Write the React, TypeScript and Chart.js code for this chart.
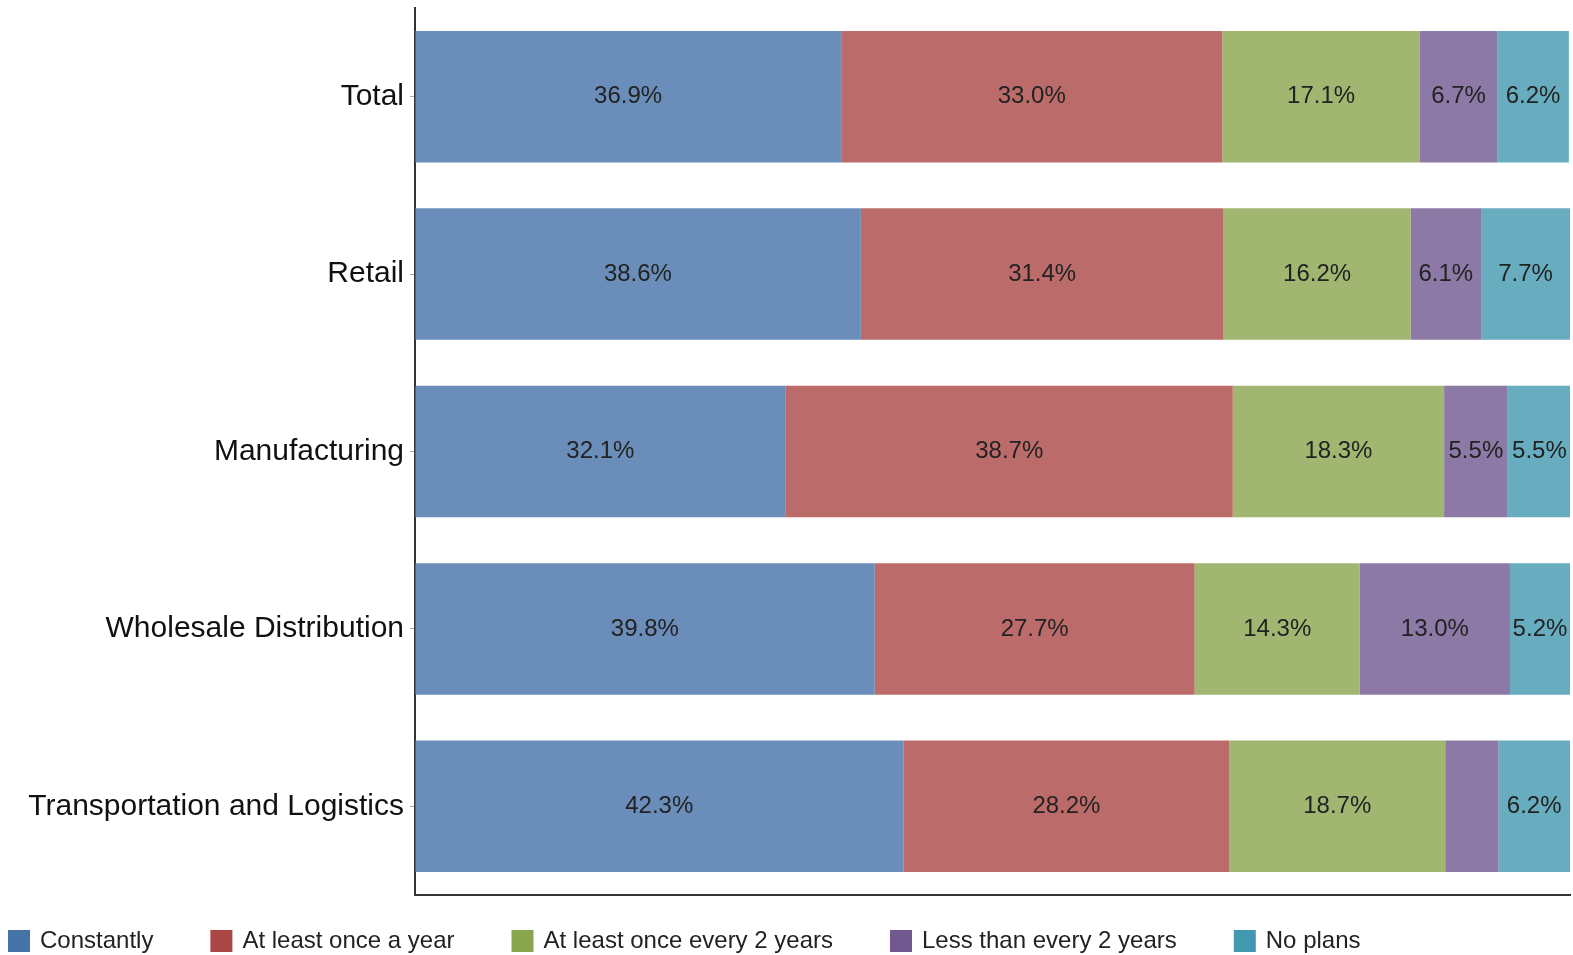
import React, { useEffect, useRef } from "react";
import { Chart, registerables } from "chart.js";

Chart.register(...registerables);

const categories = ["Total", "Retail", "Manufacturing", "Wholesale Distribution", "Transportation and Logistics"];
const seriesNames = ["Constantly", "At least once a year", "At least once every 2 years", "Less than every 2 years", "No plans"];
const constantly = [36.9, 38.6, 32.1, 39.8, 42.3];
const onceAYear = [33.0, 31.4, 38.7, 27.7, 28.2];
const every2Years = [17.1, 16.2, 18.3, 14.3, 18.7];
const lessThan2Years = [6.7, 6.1, 5.5, 13.0, 4.6];
const noPlans = [6.2, 7.7, 5.5, 5.2, 6.2];
const legendColors = ["#4572A7", "#AA4643", "#89A54E", "#71588F", "#4198AF"];
const barColors = ["rgba(69,114,167,0.8)", "rgba(170,70,67,0.8)", "rgba(137,165,78,0.8)", "rgba(113,88,143,0.8)", "rgba(65,152,175,0.8)"];

const FONT = "'Liberation Sans', Arial, sans-serif";

const dataLabelPlugin = {
  id: "dataLabels",
  afterDatasetsDraw(chart: any) {
    const ctx = chart.ctx;
    ctx.save();
    ctx.font = `24px ${FONT}`;
    ctx.fillStyle = "#222";
    ctx.textAlign = "center";
    ctx.textBaseline = "middle";
    chart.data.datasets.forEach((ds: any, di: number) => {
      const meta = chart.getDatasetMeta(di);
      meta.data.forEach((el: any, i: number) => {
        const v = ds.data[i];
        if (v < 5) return;
        const p = el.getProps(["x", "y", "base"], true);
        ctx.fillText(v.toFixed(1) + "%", (p.x + p.base) / 2, p.y);
      });
    });
    ctx.restore();
  },
};

const legendPlugin = {
  id: "customLegend",
  afterDraw(chart: any) {
    const ctx = chart.ctx;
    ctx.save();
    ctx.font = `24px ${FONT}`;
    ctx.textBaseline = "middle";
    ctx.textAlign = "left";
    let x = 8;
    const yc = 941;
    seriesNames.forEach((name, i) => {
      ctx.fillStyle = legendColors[i];
      ctx.fillRect(x, yc - 11, 22, 22);
      ctx.fillStyle = "#222";
      ctx.fillText(name, x + 32, yc);
      x += 32 + ctx.measureText(name).width + 57;
    });
    ctx.restore();
  },
};

export default function App() {
  const ref = useRef<HTMLCanvasElement | null>(null);
  useEffect(() => {
    if (!ref.current) return;
    const seriesValues = [constantly, onceAYear, every2Years, lessThan2Years, noPlans];
    const chart = new Chart(ref.current, {
      type: "bar",
      data: {
        labels: categories,
        datasets: seriesNames.map((name, i) => ({
          label: name,
          data: seriesValues[i],
          backgroundColor: barColors[i],
          borderWidth: 0,
          categoryPercentage: 1,
          barPercentage: 0.741,
        })),
      },
      options: {
        indexAxis: "y",
        animation: false,
        responsive: true,
        maintainAspectRatio: false,
        layout: { padding: { top: 8, right: 3, left: 0, bottom: 0 } },
        plugins: {
          legend: { display: false },
          tooltip: { enabled: false },
        },
        scales: {
          x: {
            stacked: true,
            min: 0,
            max: 100,
            grid: { display: false },
            ticks: { display: false },
            border: { display: true, color: "#333", width: 2 },
            afterFit(scale: any) {
              scale.height = 60;
              scale.paddingLeft = 0;
              scale.paddingRight = 0;
            },
          },
          y: {
            stacked: true,
            grid: { display: true, drawOnChartArea: false, offset: false, tickLength: 5, color: "#aaa" },
            border: { display: true, color: "#333", width: 2 },
            ticks: { font: { size: 30, family: FONT }, color: "#111", padding: 6 },
            afterFit(scale: any) {
              scale.width = 415;
              scale.paddingTop = 0;
              scale.paddingBottom = 0;
            },
          },
        },
      } as any,
      plugins: [dataLabelPlugin, legendPlugin],
    });
    return () => chart.destroy();
  }, []);
  return (
    <div style={{ position: "fixed", left: 0, top: 0, width: 1573, height: 955, background: "#fff" }}>
      <canvas ref={ref} />
    </div>
  );
}
